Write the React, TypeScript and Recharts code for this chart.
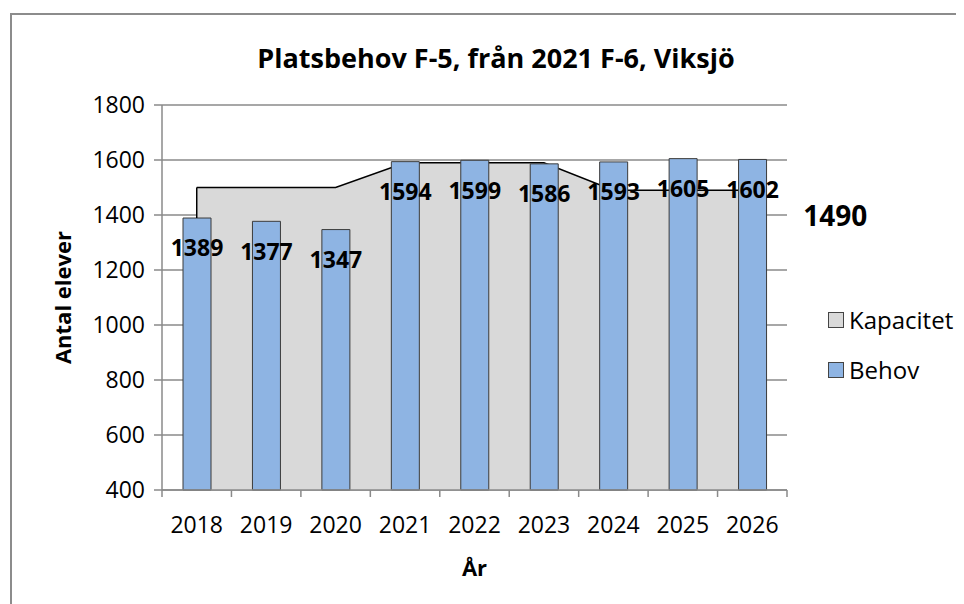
import {
  ComposedChart,
  Area,
  Bar,
  XAxis,
  YAxis,
  CartesianGrid,
  LabelList,
  Label,
} from "recharts"

const years = ["2018", "2019", "2020", "2021", "2022", "2023", "2024", "2025", "2026"]
const behov = [1389, 1377, 1347, 1594, 1599, 1586, 1593, 1605, 1602]
const kapacitet = [1500, 1500, 1500, 1590, 1590, 1590, 1490, 1490, 1490]
const yTicks = [400, 600, 800, 1000, 1200, 1400, 1600, 1800]

const seriesNames = { kapacitet: "Kapacitet", behov: "Behov" }

const data = years.map((year, i) => ({
  year,
  behov: behov[i],
  kapacitet: kapacitet[i],
}))

const GRID = "#8a8a8a"
const FONT = "'Open Sans', sans-serif"

// plot box inside the svg
const PLOT_LEFT = 154
const PLOT_RIGHT = 779
const PLOT_TOP = 97
const PLOT_BOTTOM = 482
const BAND = (PLOT_RIGHT - PLOT_LEFT) / years.length
const PX_PER_UNIT = (PLOT_BOTTOM - PLOT_TOP) / (yTicks[yTicks.length - 1] - yTicks[0])

function YearTick(props: any) {
  const { x, y, payload, index } = props
  const left = x - BAND / 2
  return (
    <g>
      <line x1={left} y1={y} x2={left} y2={y + 7} stroke={GRID} strokeWidth={1.5} />
      {index === years.length - 1 && (
        <line x1={x + BAND / 2} y1={y} x2={x + BAND / 2} y2={y + 7} stroke={GRID} strokeWidth={1.5} />
      )}
      <text x={x} y={y + 34} textAnchor="middle" dominantBaseline="central" fontSize={23} fill="#000">
        {payload.value}
      </text>
    </g>
  )
}

// left outline edge of the area, only the part above the first bar shows
function EdgeDot(props: any) {
  const { cx, cy, index } = props
  if (index !== 0) return <g key={index} />
  const barTop = cy + (kapacitet[0] - behov[0]) * PX_PER_UNIT
  return <line key={index} x1={cx} y1={cy} x2={cx} y2={barTop} stroke="#000" strokeWidth={1.5} />
}

function LastCapLabel(props: any) {
  const { x, y, value, index } = props
  if (index !== years.length - 1) return null
  return (
    <text x={x + 83} y={y + 25} textAnchor="middle" dominantBaseline="central" fontSize={28} fontWeight="bold" fill="#000">
      {value}
    </text>
  )
}

export default function App() {
  return (
    <div style={{ position: "relative", width: 956, height: 596, fontFamily: FONT, background: "#fff" }}>
      <div
        style={{
          position: "absolute",
          left: 2,
          top: 5,
          right: 0,
          bottom: 0,
          borderTop: "2px solid #8c8c8c",
          borderLeft: "2px solid #8c8c8c",
        }}
      />
      <div
        style={{
          position: "absolute",
          left: 138,
          top: 34,
          width: 700,
          lineHeight: "32px",
          textAlign: "center",
          fontSize: 27,
          fontWeight: "bold",
        }}
      >
        Platsbehov F-5, från 2021 F-6, Viksjö
      </div>

      <div style={{ position: "absolute", left: 0, top: 0 }}>
        <ComposedChart
          width={956}
          height={596}
          data={data}
          margin={{ top: PLOT_TOP, right: 956 - PLOT_RIGHT, bottom: 596 - PLOT_BOTTOM - 106, left: 24 }}
          barSize={28}
        >
          <CartesianGrid vertical={false} stroke={GRID} strokeWidth={1.5} />
          <XAxis
            dataKey="year"
            height={106}
            tickLine={false}
            tickSize={0}
            tickMargin={0}
            axisLine={{ stroke: GRID, strokeWidth: 1.5 }}
            tick={<YearTick />}
            interval={0}
          >
            <Label
              content={(p: any) => {
                const vb = p.viewBox
                return (
                  <text
                    x={vb.x + vb.width / 2}
                    y={vb.y + 77}
                    textAnchor="middle"
                    dominantBaseline="central"
                    fontSize={22}
                    fontWeight="bold"
                    fill="#000"
                  >
                    År
                  </text>
                )
              }}
            />
          </XAxis>
          <YAxis
            width={130}
            domain={[yTicks[0], yTicks[yTicks.length - 1]]}
            ticks={yTicks}
            tickSize={8}
            tickMargin={9}
            tickLine={{ stroke: GRID, strokeWidth: 1.5 }}
            axisLine={{ stroke: GRID, strokeWidth: 1.5 }}
            tick={{ fontSize: 23, fill: "#000" }}
          >
            <Label
              content={(p: any) => {
                const vb = p.viewBox
                const cx = vb.x + 30
                const cy = vb.y + vb.height / 2
                return (
                  <text
                    x={cx}
                    y={cy}
                    transform={`rotate(-90 ${cx} ${cy})`}
                    textAnchor="middle"
                    dominantBaseline="central"
                    fontSize={22}
                    fontWeight="bold"
                    fill="#000"
                  >
                    Antal elever
                  </text>
                )
              }}
            />
          </YAxis>
          <Area
            type="linear"
            dataKey="kapacitet"
            name={seriesNames.kapacitet}
            fill="#d9d9d9"
            fillOpacity={1}
            stroke="#000"
            strokeWidth={1.5}
            dot={<EdgeDot />}
            activeDot={false}
            isAnimationActive={false}
          >
            <LabelList dataKey="kapacitet" content={<LastCapLabel />} />
          </Area>
          <Bar
            dataKey="behov"
            name={seriesNames.behov}
            fill="#8eb4e3"
            stroke="#3b3b3b"
            strokeWidth={1}
            isAnimationActive={false}
          >
            <LabelList
              dataKey="behov"
              position="insideTop"
              offset={22}
              style={{ fontSize: 23, fontWeight: "bold", fill: "#000" }}
            />
          </Bar>
        </ComposedChart>
      </div>

      <div style={{ position: "absolute", left: 820, top: 297, fontSize: 24, lineHeight: "30px" }}>
        {[
          { name: seriesNames.kapacitet, color: "#d9d9d9" },
          { name: seriesNames.behov, color: "#8eb4e3" },
        ].map((item) => (
          <div key={item.name} style={{ display: "flex", alignItems: "center", height: 30, marginBottom: 20 }}>
            <span
              style={{
                display: "inline-block",
                width: 14,
                height: 14,
                background: item.color,
                border: "1px solid #444",
                marginRight: 5,
              }}
            />
            {item.name}
          </div>
        ))}
      </div>
    </div>
  )
}
